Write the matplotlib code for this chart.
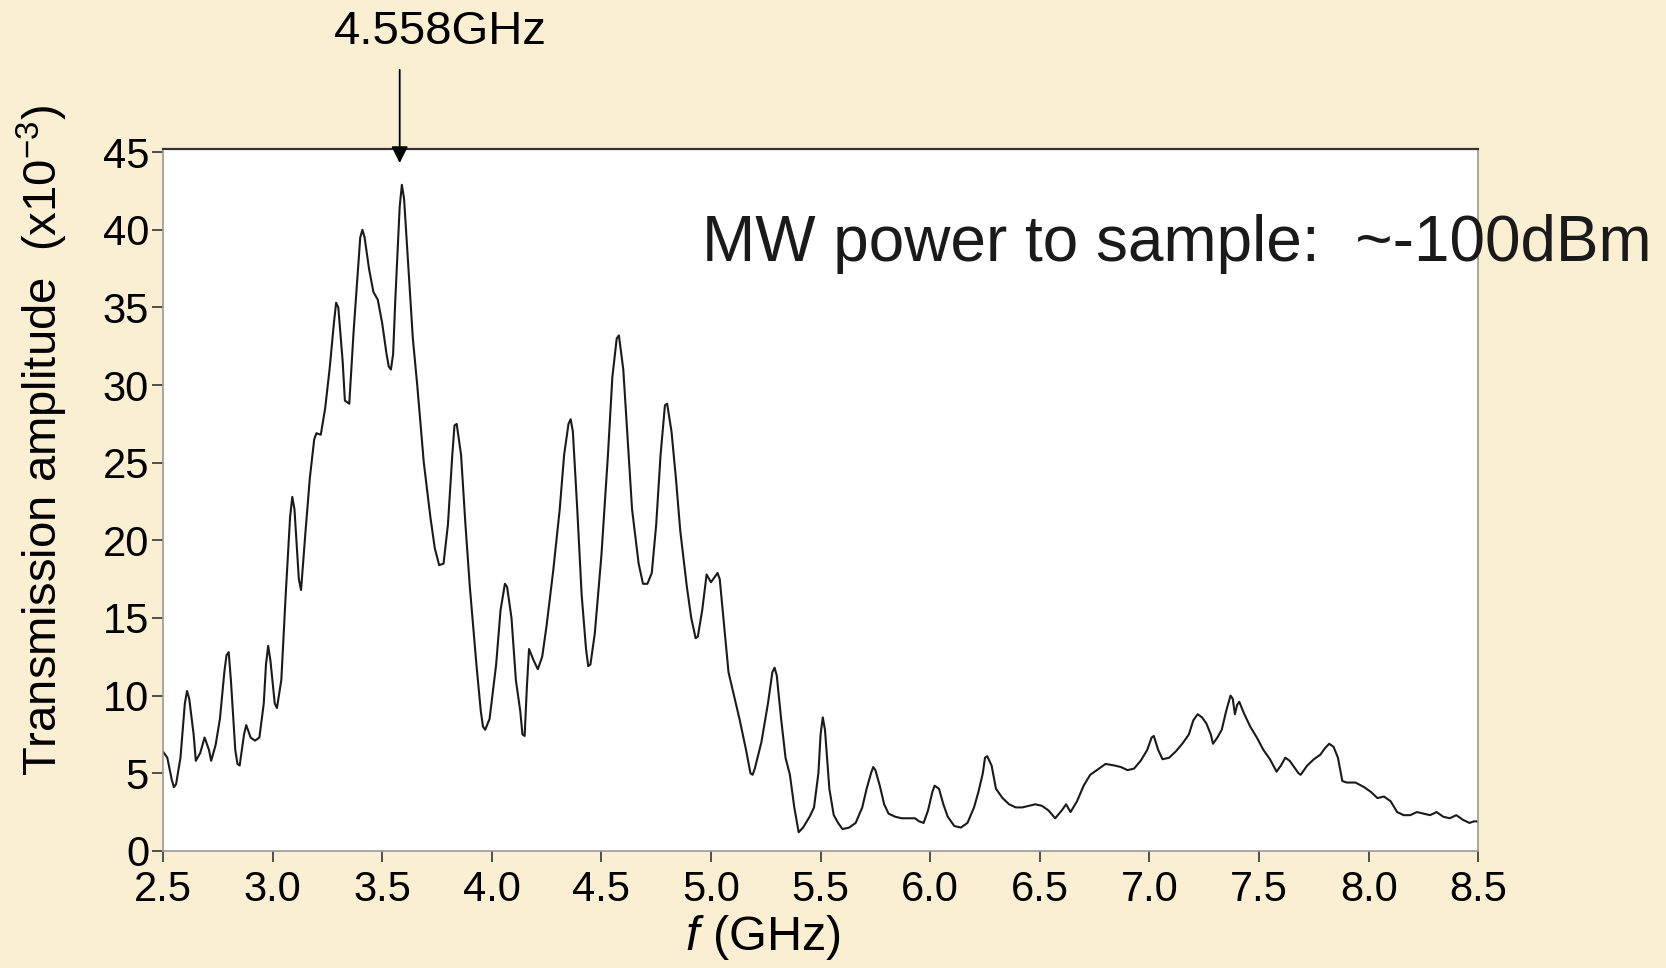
import matplotlib as mpl
mpl.use('Agg')

import numpy as np
import matplotlib.pyplot as plt

plt.rcParams['font.family'] = ['Liberation Sans', 'DejaVu Sans']
plt.rcParams['mathtext.fontset'] = 'custom'
plt.rcParams['mathtext.rm'] = 'Liberation Sans'
plt.rcParams['mathtext.it'] = 'Liberation Sans:italic'

# values (GHz, x10^-3)
freq = [2.50, 2.52, 2.54, 2.55, 2.56, 2.58, 2.60, 2.61, 2.62, 2.64, 2.65, 2.67, 2.69,
        2.71, 2.72, 2.74, 2.76, 2.78, 2.79, 2.80, 2.81, 2.83, 2.84, 2.85, 2.87, 2.88,
        2.90, 2.92, 2.94, 2.96, 2.97, 2.98, 2.99, 3.01, 3.02, 3.04, 3.06, 3.08, 3.09,
        3.10, 3.12, 3.13, 3.15, 3.17, 3.19, 3.20, 3.22, 3.24, 3.26, 3.28, 3.29, 3.30,
        3.32, 3.33, 3.35, 3.37, 3.39, 3.40, 3.41, 3.42, 3.44, 3.46, 3.48, 3.50, 3.52,
        3.53, 3.54, 3.55, 3.56, 3.58, 3.59, 3.60, 3.62, 3.64, 3.66, 3.69, 3.72, 3.74,
        3.76, 3.78, 3.80, 3.82, 3.83, 3.84, 3.86, 3.88, 3.90, 3.93, 3.95, 3.96, 3.97,
        3.99, 4.02, 4.04, 4.06, 4.07, 4.09, 4.11, 4.13, 4.14, 4.15, 4.16, 4.17, 4.19,
        4.21, 4.23, 4.25, 4.28, 4.31, 4.33, 4.35, 4.36, 4.37, 4.39, 4.41, 4.43, 4.44,
        4.45, 4.47, 4.50, 4.53, 4.55, 4.57, 4.58, 4.60, 4.62, 4.64, 4.67, 4.69, 4.71,
        4.73, 4.75, 4.77, 4.79, 4.80, 4.82, 4.84, 4.86, 4.89, 4.91, 4.93, 4.94, 4.96,
        4.98, 5.00, 5.01, 5.03, 5.04, 5.06, 5.08, 5.10, 5.13, 5.16, 5.18, 5.19, 5.20,
        5.23, 5.26, 5.28, 5.29, 5.30, 5.32, 5.34, 5.36, 5.38, 5.40, 5.42, 5.45, 5.47,
        5.49, 5.50, 5.51, 5.52, 5.54, 5.56, 5.58, 5.60, 5.63, 5.66, 5.69, 5.71, 5.73,
        5.74, 5.75, 5.77, 5.79, 5.81, 5.84, 5.87, 5.90, 5.93, 5.95, 5.97, 5.99, 6.01,
        6.02, 6.04, 6.06, 6.08, 6.11, 6.14, 6.17, 6.20, 6.22, 6.24, 6.25, 6.26, 6.28,
        6.30, 6.33, 6.36, 6.39, 6.42, 6.45, 6.48, 6.51, 6.54, 6.57, 6.60, 6.62, 6.64,
        6.67, 6.70, 6.73, 6.77, 6.80, 6.84, 6.87, 6.90, 6.93, 6.96, 6.99, 7.01, 7.02,
        7.04, 7.06, 7.09, 7.12, 7.15, 7.18, 7.20, 7.22, 7.24, 7.26, 7.28, 7.29, 7.31,
        7.33, 7.35, 7.37, 7.38, 7.39, 7.40, 7.41, 7.43, 7.46, 7.49, 7.52, 7.55, 7.58,
        7.60, 7.62, 7.64, 7.66, 7.68, 7.69, 7.72, 7.75, 7.78, 7.80, 7.82, 7.84, 7.86,
        7.88, 7.90, 7.94, 7.98, 8.01, 8.04, 8.07, 8.10, 8.13, 8.16, 8.19, 8.22, 8.25,
        8.28, 8.31, 8.34, 8.37, 8.40, 8.43, 8.46, 8.48, 8.50]
amp = [6.4, 6.0, 4.6, 4.1, 4.3, 6.0, 9.5, 10.3, 9.8, 7.5, 5.8, 6.3, 7.3,
       6.5, 5.8, 6.8, 8.5, 11.5, 12.6, 12.8, 11.0, 6.5, 5.6, 5.5, 7.5, 8.1,
       7.3, 7.1, 7.3, 9.5, 12.0, 13.2, 12.3, 9.5, 9.2, 11.0, 16.5, 21.5, 22.8,
       22.0, 17.5, 16.8, 20.5, 24.0, 26.5, 26.9, 26.8, 28.5, 31.0, 34.0, 35.3, 35.0,
       31.5, 29.0, 28.8, 33.5, 37.5, 39.5, 40.0, 39.5, 37.5, 36.0, 35.5, 34.0, 32.0,
       31.2, 31.0, 32.0, 35.5, 41.5, 42.9, 42.0, 37.5, 33.0, 30.0, 25.0, 21.5, 19.5,
       18.4, 18.5, 21.0, 25.5, 27.4, 27.5, 25.5, 21.0, 17.0, 12.0, 9.0, 8.0, 7.8,
       8.5, 12.0, 15.5, 17.2, 17.0, 15.0, 11.0, 9.0, 7.5, 7.4, 10.5, 13.0, 12.3,
       11.7, 12.5, 14.5, 18.0, 22.0, 25.5, 27.5, 27.8, 27.0, 22.0, 16.5, 13.0, 11.9,
       12.0, 14.0, 19.0, 25.5, 30.5, 33.0, 33.2, 31.0, 26.5, 22.0, 18.5, 17.2, 17.2,
       17.9, 21.0, 25.5, 28.7, 28.8, 27.0, 24.0, 20.6, 17.0, 15.0, 13.7, 13.8, 15.5,
       17.8, 17.3, 17.5, 17.9, 17.5, 14.5, 11.5, 10.3, 8.5, 6.5, 5.0, 4.9, 5.3,
       7.0, 9.5, 11.5, 11.8, 11.3, 8.5, 6.0, 4.9, 2.8, 1.2, 1.5, 2.2, 2.8,
       5.0, 7.5, 8.6, 7.8, 4.0, 2.3, 1.8, 1.4, 1.5, 1.8, 2.8, 4.0, 5.0,
       5.4, 5.2, 4.2, 3.0, 2.4, 2.2, 2.1, 2.1, 2.1, 1.9, 1.8, 2.6, 3.8,
       4.2, 4.0, 3.0, 2.2, 1.6, 1.5, 1.8, 2.8, 3.8, 5.0, 6.0, 6.1, 5.5,
       4.0, 3.4, 3.0, 2.8, 2.8, 2.9, 3.0, 2.9, 2.6, 2.1, 2.6, 3.0, 2.5,
       3.2, 4.2, 4.9, 5.3, 5.6, 5.5, 5.4, 5.2, 5.3, 5.8, 6.5, 7.3, 7.4,
       6.5, 5.9, 6.0, 6.4, 6.9, 7.5, 8.4, 8.8, 8.6, 8.2, 7.5, 6.9, 7.3,
       7.8, 9.0, 10.0, 9.8, 8.8, 9.4, 9.6, 8.9, 8.0, 7.3, 6.5, 5.9, 5.1,
       5.5, 6.0, 5.8, 5.4, 5.0, 4.9, 5.5, 5.9, 6.2, 6.6, 6.9, 6.7, 6.0,
       4.5, 4.4, 4.4, 4.1, 3.8, 3.4, 3.5, 3.2, 2.5, 2.3, 2.3, 2.5, 2.4,
       2.3, 2.5, 2.2, 2.1, 2.3, 2.0, 1.8, 1.9, 1.9]

xticks = [2.5, 3.0, 3.5, 4.0, 4.5, 5.0, 5.5, 6.0, 6.5, 7.0, 7.5, 8.0, 8.5]
yticks = [0, 5, 10, 15, 20, 25, 30, 35, 40, 45]

bg = '#faeed3'
fig = plt.figure(figsize=(16.66, 9.68), dpi=100, facecolor=bg)
ax = fig.add_axes([0.0978, 0.121, 0.7895, 0.725])
ax.set_facecolor('white')

ax.plot(freq, amp, color='#1a1a1a', lw=1.5)

ax.set_xlim(2.5, 8.5)
ax.set_ylim(0, 45.2)
ax.set_xticks(xticks)
ax.set_xticklabels(['%.1f' % t for t in xticks])
ax.set_yticks(yticks)
ax.tick_params(labelsize=30, length=8, width=1.2, color='#333333', pad=2)
ax.tick_params(axis='x', pad=6)

for side in ['left', 'bottom', 'right']:
    ax.spines[side].set_color('#999999')
    ax.spines[side].set_linewidth(1.2)
ax.spines['top'].set_color('#333333')
ax.spines['top'].set_linewidth(1.6)

ax.set_xlabel('$f$ (GHz)', fontsize=35)
ax.xaxis.set_label_coords(0.456, -0.088)
ax.set_ylabel('Transmission amplitude  (x10$^{\\mathrm{-3}}$)', fontsize=34)
ax.yaxis.set_label_coords(-0.071, 0.585)

ax.annotate('', xy=(3.58, 44.3), xytext=(3.58, 50.3), annotation_clip=False,
            arrowprops=dict(arrowstyle='-|>', color='black', lw=1.3,
                            mutation_scale=25, shrinkA=0, shrinkB=0))
ax.text(3.765, 51.3, '4.558GHz', fontsize=34, ha='center', va='bottom', clip_on=False)
ax.text(4.96, 38.0, 'MW power to sample:  ~-100dBm', fontsize=46,
        ha='left', va='baseline', color='#1a1a1a', clip_on=False)

plt.savefig('out.png', dpi=100, facecolor=bg)
